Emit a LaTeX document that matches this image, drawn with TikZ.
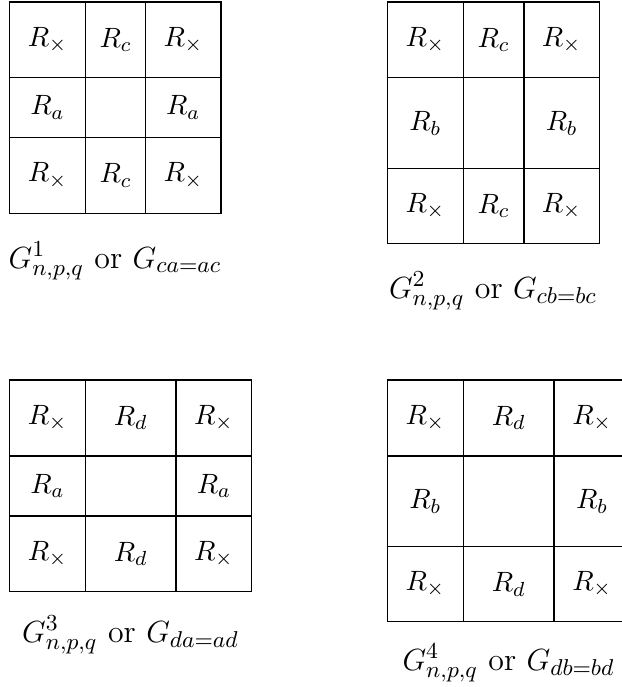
\documentclass[tikz,border=0pt]{standalone}
\usepackage{amsmath}
\newcommand\mycell[6]{%
  \node[cellst, minimum width={(#3-#2)*0.392pt}, minimum height={(#5-#4)*0.392pt}]
    (#1) at ({(#2+#3)/2},{(#4+#5)/2}) {#6};}
\begin{document}
\begin{tikzpicture}[x=0.392pt,y=-0.392pt,
  cellst/.style={draw=black, line width=0.4pt, inner sep=0pt, outer sep=0pt, font=\fontsize{11}{13}\selectfont},
  capst/.style={anchor=base, inner sep=0pt, font=\fontsize{12.5}{15}\selectfont}]
\useasboundingbox (0,0) rectangle (622,687);
% grid 1
\mycell{a11}{9.5}{85.5}{2}{77.5}{$R_\times$}
\mycell{a12}{85.5}{145.5}{2}{77.5}{$R_c$}
\mycell{a13}{145.5}{221}{2}{77.5}{$R_\times$}
\mycell{a21}{9.5}{85.5}{77.5}{137.5}{$R_a$}
\mycell{a22}{85.5}{145.5}{77.5}{137.5}{}
\mycell{a23}{145.5}{221}{77.5}{137.5}{$R_a$}
\mycell{a31}{9.5}{85.5}{137.5}{213.5}{$R_\times$}
\mycell{a32}{85.5}{145.5}{137.5}{213.5}{$R_c$}
\mycell{a33}{145.5}{221}{137.5}{213.5}{$R_\times$}
\node[capst] (capa) at (115,268) {$G^1_{n,p,q}$ or $G_{ca=ac}$};
% grid 2
\mycell{b11}{387.3}{463.3}{2}{77.7}{$R_\times$}
\mycell{b12}{463.3}{524}{2}{77.7}{$R_c$}
\mycell{b13}{524}{599.3}{2}{77.7}{$R_\times$}
\mycell{b21}{387.3}{463.3}{77.7}{168.7}{$R_b$}
\mycell{b22}{463.3}{524}{77.7}{168.7}{}
\mycell{b23}{524}{599.3}{77.7}{168.7}{$R_b$}
\mycell{b31}{387.3}{463.3}{168.7}{243.7}{$R_\times$}
\mycell{b32}{463.3}{524}{168.7}{243.7}{$R_c$}
\mycell{b33}{524}{599.3}{168.7}{243.7}{$R_\times$}
\node[capst] (capb) at (493,298) {$G^2_{n,p,q}$ or $G_{cb=bc}$};
% grid 3
\mycell{c11}{9.5}{85.5}{380}{456}{$R_\times$}
\mycell{c12}{85.5}{176}{380}{456}{$R_d$}
\mycell{c13}{176}{251.7}{380}{456}{$R_\times$}
\mycell{c21}{9.5}{85.5}{456}{516}{$R_a$}
\mycell{c22}{85.5}{176}{456}{516}{}
\mycell{c23}{176}{251.7}{456}{516}{$R_a$}
\mycell{c31}{9.5}{85.5}{516}{591.7}{$R_\times$}
\mycell{c32}{85.5}{176}{516}{591.7}{$R_d$}
\mycell{c33}{176}{251.7}{516}{591.7}{$R_\times$}
\node[capst] (capc) at (130.6,642) {$G^3_{n,p,q}$ or $G_{da=ad}$};
% grid 4
\mycell{d11}{387.3}{463.3}{380}{456}{$R_\times$}
\mycell{d12}{463.3}{554}{380}{456}{$R_d$}
\mycell{d13}{554}{630}{380}{456}{$R_\times$}
\mycell{d21}{387.3}{463.3}{456}{546.7}{$R_b$}
\mycell{d22}{463.3}{554}{456}{546.7}{}
\mycell{d23}{554}{630}{456}{546.7}{$R_b$}
\mycell{d31}{387.3}{463.3}{546.7}{621.7}{$R_\times$}
\mycell{d32}{463.3}{554}{546.7}{621.7}{$R_d$}
\mycell{d33}{554}{630}{546.7}{621.7}{$R_\times$}
\node[capst] (capd) at (508.6,670) {$G^4_{n,p,q}$ or $G_{db=bd}$};
\end{tikzpicture}
\end{document}
